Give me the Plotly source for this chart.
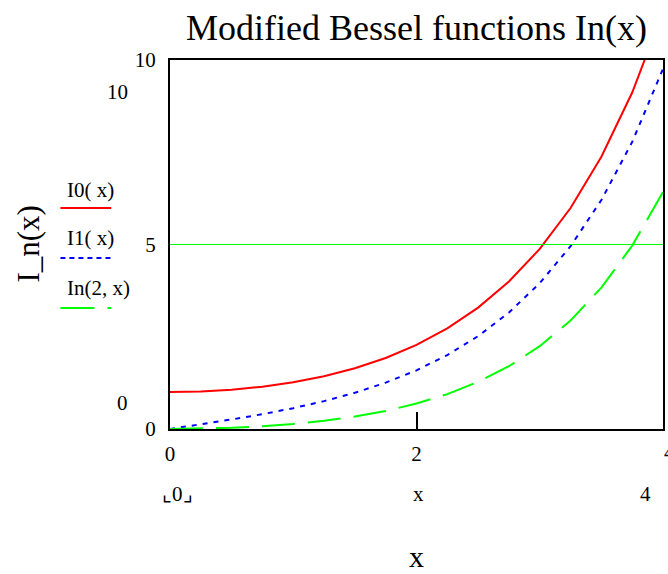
import plotly.graph_objects as go

# ---- data ----
x_vals = [0, 0.25, 0.5, 0.75, 1.0, 1.25, 1.5, 1.75, 2.0, 2.25, 2.5, 2.75, 3.0, 3.25, 3.5, 3.75, 4.0]
i0_vals = [1.0, 1.015686, 1.063483, 1.145646, 1.266066, 1.430468, 1.646723, 1.925252, 2.279585,
           2.727079, 3.289839, 3.995913, 4.880793, 5.989334, 7.378203, 9.118945, 11.301922]
i1_vals = [0.0, 0.125979, 0.257894, 0.401992, 0.565159, 0.755281, 0.981666, 1.255537, 1.590637,
           2.003966, 2.516716, 3.155410, 3.953370, 4.952574, 6.205835, 7.780016, 9.759465]
i2_vals = [0.0, 0.007853, 0.031906, 0.073667, 0.135748, 0.222018, 0.337835, 0.490352, 0.688948,
           0.945775, 1.276466, 1.701069, 2.245212, 2.941616, 3.832012, 4.969607, 6.421894]
marker_y = 5
x_ticks = [0, 2, 4]
x_tick_text = ["0", "2", ""]
y_ticks = [0, 5, 10]
y_tick_text = ["0", "5", "10"]
x_range = [0, 4]
y_range = [0, 10]
title_text = "Modified Bessel functions In(x)"
legend_labels = ["I0( x)", "I1( x)", "In(2, x)"]

# ---- layout geometry ----
W, H = 668, 574
L, R, T, B = 170, 3, 60, 145
PW, PH = W - L - R, H - T - B
FONT = "Liberation Serif, Times New Roman, serif"


def px(xp):
    return (xp - L) / PW


def py(yp):
    return (T + PH - yp) / PH


fig = go.Figure()

fig.add_trace(go.Scatter(x=x_vals, y=i0_vals, mode="lines",
                         line=dict(color="#ff0000", width=2), showlegend=False))
fig.add_trace(go.Scatter(x=x_vals, y=i1_vals, mode="lines",
                         line=dict(color="#0000ff", width=2, dash="5px,6px"), showlegend=False))
fig.add_trace(go.Scatter(x=x_vals, y=i2_vals, mode="lines",
                         line=dict(color="#00ff00", width=2, dash="33px,13px"), showlegend=False))

# marker line at y = 5
fig.add_shape(type="line", xref="paper", yref="y", x0=0, x1=1, y0=marker_y, y1=marker_y,
              line=dict(color="#00ff00", width=1))

annotations = []


def txt(text, xp, yp, size=21, xanchor="center", textangle=0):
    annotations.append(dict(text=text, x=px(xp), y=py(yp), xref="paper", yref="paper",
                            xanchor=xanchor, yanchor="middle", showarrow=False,
                            textangle=textangle,
                            font=dict(family=FONT, size=size, color="black")))


# title and axis titles
txt(title_text, 417, 28, size=36)
txt("x", 418, 556, size=30)
txt("I_n(x)", 27, 244, size=31, textangle=-90)

# Mathcad extra labels
txt("10", 117, 92)
txt("0", 122, 403)
txt("\u231e0\u231f", 178, 494)
txt("x", 420, 494)
txt("4", 647, 494)
txt("4", 672, 452)

# legend
leg_colors = ["#ff0000", "#0000ff", "#00ff00"]
leg_dash = ["solid", "5px,4px", "34px,13px"]
leg_text_y = [190, 238, 288]
leg_line_y = [208, 258, 308]
for lab, c, d, ty, ly in zip(legend_labels, leg_colors, leg_dash, leg_text_y, leg_line_y):
    txt(lab, 65, ty, xanchor="left")
    fig.add_shape(type="line", xref="paper", yref="paper",
                  x0=px(60), x1=px(111), y0=py(ly), y1=py(ly),
                  line=dict(color=c, width=2, dash=d))

fig.update_layout(
    width=W, height=H,
    margin=dict(l=L, r=R, t=T, b=B, pad=0),
    paper_bgcolor="white", plot_bgcolor="white",
    showlegend=False,
    annotations=annotations,
    font=dict(family=FONT, size=21, color="black"),
)
fig.update_xaxes(range=x_range, tickvals=x_ticks, ticktext=x_tick_text,
                 ticks="inside", ticklen=17, tickwidth=2, tickcolor="black",
                 showgrid=False, zeroline=False, showline=True, linecolor="black",
                 linewidth=2, mirror=True, ticklabelstandoff=5,
                 tickfont=dict(family=FONT, size=21, color="black"))
fig.update_yaxes(range=y_range, tickvals=y_ticks, ticktext=y_tick_text,
                 ticks="", showgrid=False, zeroline=False, showline=True,
                 linecolor="black", linewidth=2, mirror=True, ticklabelstandoff=8,
                 tickfont=dict(family=FONT, size=21, color="black"))

fig.write_html("out.html",
               config={"displayModeBar": False},
               post_script="document.body.style.margin='0px';document.body.style.overflow='hidden';")
